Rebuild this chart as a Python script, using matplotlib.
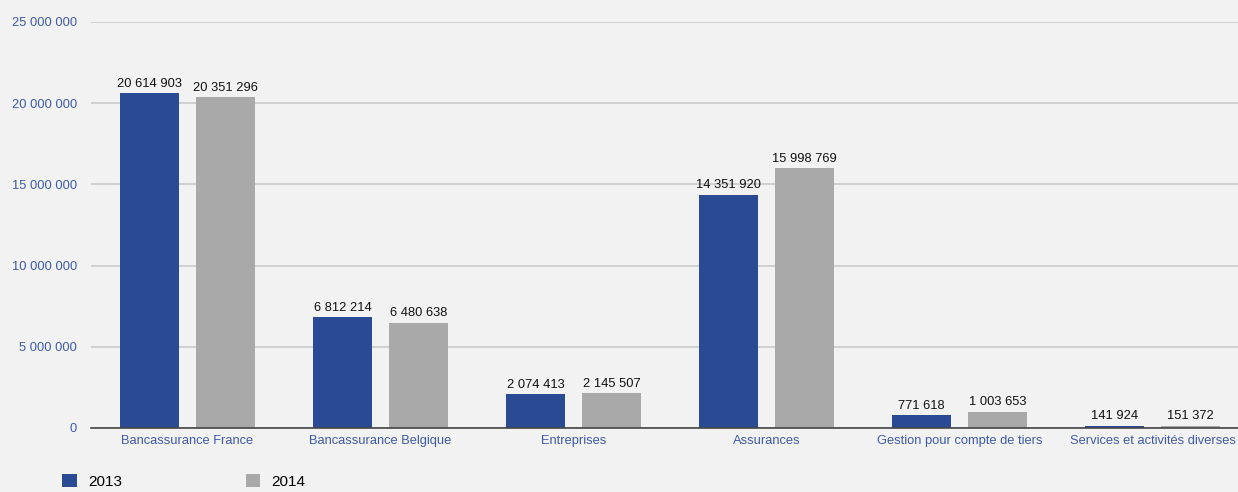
import matplotlib
matplotlib.use("Agg")
import matplotlib.pyplot as plt
from matplotlib.ticker import FuncFormatter
import numpy as np

categories = [
    "Bancassurance France",
    "Bancassurance Belgique",
    "Entreprises",
    "Assurances",
    "Gestion pour compte de tiers",
    "Services et activités diverses",
]
values_2013 = [20614903, 6812214, 2074413, 14351920, 771618, 141924]
values_2014 = [20351296, 6480638, 2145507, 15998769, 1003653, 151372]
series_labels = ["2013", "2014"]
y_ticks = [0, 5000000, 10000000, 15000000, 20000000, 25000000]

BLUE = "#2a4a94"
GREY = "#a9a9a9"
BG = "#f2f2f2"
TICK_BLUE = "#3f5ba6"

plt.rcParams["font.family"] = ["Liberation Sans", "DejaVu Sans"]


def fmt_space(v, pos=None):
    return f"{int(round(v)):,}".replace(",", " ")


fig = plt.figure(figsize=(12.38, 4.92), dpi=100, facecolor=BG)
ax = fig.add_axes([91 / 1238, 1 - 428 / 492, 1 - 91 / 1238, (428 - 22) / 492])
ax.set_facecolor(BG)

x = np.arange(len(categories))
offset = 0.197
width = 0.305

bars1 = ax.bar(x - offset, values_2013, width, color=BLUE, label=series_labels[0], zorder=3)
bars2 = ax.bar(x + offset, values_2014, width, color=GREY, label=series_labels[1], zorder=3)

for bars, vals in ((bars1, values_2013), (bars2, values_2014)):
    for b, v in zip(bars, vals):
        ax.annotate(fmt_space(v), (b.get_x() + b.get_width() / 2, v),
                    xytext=(0, 2.5), textcoords="offset points",
                    ha="center", va="bottom", fontsize=9.3, color="#111111")

ax.set_ylim(0, 25000000)
ax.set_xlim(-0.5, -0.5 + (1238 - 91) / 193)
ax.set_yticks(y_ticks)
ax.yaxis.set_major_formatter(FuncFormatter(fmt_space))
ax.set_xticks(x)
ax.set_xticklabels(categories)

ax.grid(axis="y", color="#cacaca", linewidth=1.2, zorder=0)
ax.set_axisbelow(True)
for side in ("top", "right", "left"):
    ax.spines[side].set_visible(False)
ax.spines["bottom"].set_color("#444444")
ax.spines["bottom"].set_linewidth(1.2)
ax.spines["bottom"].set_zorder(4)

ax.tick_params(axis="y", length=0, pad=10, labelsize=9.3, labelcolor=TICK_BLUE)
ax.tick_params(axis="x", length=0, pad=5, labelsize=9.3, labelcolor=TICK_BLUE)

fig.legend(handles=[bars1, bars2], labels=series_labels,
           loc="lower left", bbox_to_anchor=(59 / 1238, 0.0),
           ncol=2, frameon=False, fontsize=11,
           handlelength=0.95, handleheight=0.95, handletextpad=0.75,
           columnspacing=8.1, borderaxespad=0, borderpad=0.2)

fig.savefig("out.png", dpi=100, facecolor=BG)
